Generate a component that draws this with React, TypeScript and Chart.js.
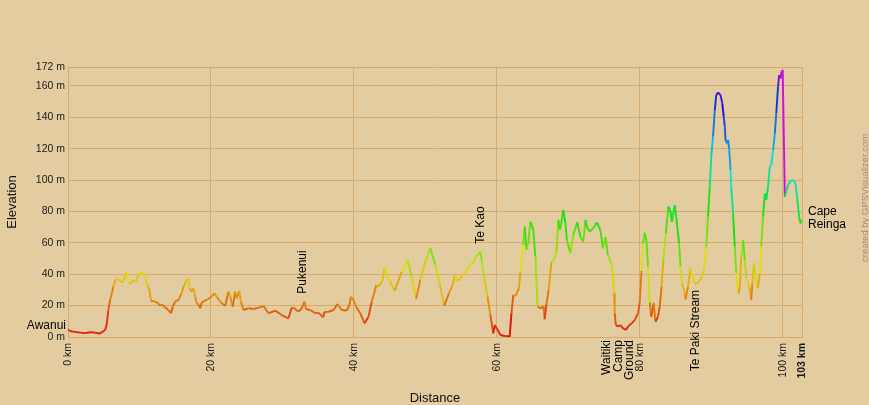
import React, { useEffect, useRef } from "react";
import { Chart, registerables } from "chart.js";

Chart.register(...registerables);

// ---- data ----
const distanceKm = [
  0.0, 0.2, 0.7, 1.7, 2.4, 3.1, 3.8, 4.4, 4.7, 5.2, 5.4, 5.65, 5.9, 6.35, 6.6, 7.05, 7.5, 7.8, 8.2, 8.55,
  8.9, 9.25, 9.6, 9.85, 10.3, 10.8, 11.1, 11.4, 11.6, 12.2, 12.65, 12.8, 13.1, 13.6, 14.05, 14.4, 14.65, 15.0, 15.45, 15.9,
  16.15, 16.4, 16.6, 16.85, 17.0, 17.3, 17.55, 17.8, 18.0, 18.25, 18.5, 18.7, 19.4, 20.1, 20.45, 20.8, 21.3, 22.0, 22.45, 22.7,
  23.05, 23.4, 23.6, 23.95, 24.2, 24.55, 25.25, 25.95, 26.8, 27.35, 28.05, 29.0, 29.9, 30.85, 31.3, 31.65, 32.25, 32.7, 33.1, 33.3,
  33.9, 34.6, 35.05, 35.7, 35.9, 36.45, 37.15, 37.7, 38.3, 39.0, 39.35, 39.6, 39.95, 40.3, 40.9, 41.5, 42.05, 42.5, 43.15, 43.4,
  43.95, 44.3, 44.6, 45.1, 45.7, 46.7, 47.5, 48.1, 48.7, 49.3, 50.0, 50.7, 51.4, 52.0, 52.65, 53.3, 53.7, 54.2, 54.45, 55.15,
  55.85, 56.3, 56.75, 57.0, 57.3, 57.7, 57.9, 58.3, 58.7, 59.1, 59.5, 59.7, 60.0, 60.5, 61.2, 61.8, 62.05, 62.3, 62.6, 63.1,
  63.3, 63.7, 63.9, 64.15, 64.4, 64.7, 65.1, 65.4, 65.7, 66.1, 66.55, 66.7, 66.95, 67.25, 67.65, 67.95, 68.35, 68.6, 68.8, 69.0,
  69.3, 69.6, 69.8, 70.3, 70.7, 71.25, 71.7, 72.1, 72.4, 72.6, 73.0, 73.6, 74.0, 74.5, 74.85, 75.2, 75.55, 76.0, 76.25, 76.4,
  76.5, 76.65, 77.0, 77.3, 77.65, 78.05, 78.35, 78.85, 79.3, 79.75, 80.0, 80.25, 80.45, 80.7, 80.95, 81.15, 81.4, 81.6, 81.95, 82.2,
  82.55, 82.8, 83.05, 83.3, 83.65, 84.0, 84.3, 84.5, 84.65, 84.9, 85.1, 85.5, 85.7, 85.9, 86.3, 86.4, 86.75, 87.1, 87.4, 87.7,
  88.15, 88.6, 89.0, 89.3, 89.55, 89.8, 90.0, 90.25, 90.5, 90.7, 90.95, 91.3, 91.55, 91.75, 91.9, 92.0, 92.2, 92.35, 92.5, 92.7,
  92.8, 93.05, 93.3, 93.5, 93.8, 94.0, 94.2, 94.45, 94.7, 94.9, 95.3, 95.5, 95.6, 95.75, 96.0, 96.2, 96.5, 96.8, 97.0, 97.25,
  97.5, 97.7, 97.95, 98.2, 98.4, 98.65, 98.9, 99.1, 99.35, 99.5, 99.7, 99.85, 100.0, 100.3, 100.5, 100.75, 101.1, 101.45, 101.8, 102.0,
  102.3, 102.5, 102.6,
];

const elevationM = [
  5, 4, 3.4, 2.8, 2.5, 3, 2.8, 2.2, 2.9, 4.5, 7.6, 17, 23.6, 32, 36.3, 37.4, 34.6, 35.9, 41, 34.2,
  35, 36, 36, 39.5, 41.6, 38.4, 33, 30, 23.1, 22.5, 21.4, 20, 20.7, 18.9, 17.2, 15.1, 19.3, 22.5, 23.6, 27.8,
  32, 34.2, 36.3, 37.4, 31, 28.9, 31, 25.7, 21.4, 20.7, 18.3, 22, 23.6, 25.7, 27.8, 25.7, 22.5, 19.7, 28.9, 25.7,
  19.3, 28.9, 24.6, 29.3, 22.5, 17.2, 18.3, 17.8, 18.9, 19.7, 15.1, 16.8, 14, 11.9, 18.7, 18.3, 16.1, 18.3, 22.5, 17.8,
  17.2, 15.1, 15.5, 12.5, 16, 16, 17.2, 21, 17.2, 16.8, 20, 25.7, 23.6, 19.3, 15.1, 8.7, 12.9, 22.5, 33.1, 32,
  35.2, 44.4, 39.5, 35.2, 29.5, 41.6, 49, 38.4, 24.2, 36.3, 48, 56.5, 45.9, 34.2, 20, 27.8, 32, 39.5, 35.2, 38.9,
  42.7, 46.5, 46.9, 51.1, 52.2, 54.3, 48, 36.3, 25.7, 14, 2.3, 7.6, 5.5, 1.3, 0.5, 0.5, 15.1, 26.8, 26, 31,
  41.6, 58.6, 70.3, 55.4, 59.7, 73.4, 68.2, 51.1, 19.3, 18.3, 19.3, 11.3, 21, 30, 48, 49, 54.3, 74.5, 68.2, 72,
  80.9, 72.4, 61.8, 53.3, 65, 73, 63.9, 60.7, 74.5, 70, 67, 70, 73, 68, 56.5, 63.5, 52, 47, 38.4, 27.8,
  15, 7.6, 6.6, 7.6, 5.5, 4.5, 6.6, 8.7, 10.8, 15, 22, 42, 59.7, 66.4, 60.7, 44.8, 22, 12.9, 21.4, 9.7,
  13, 19.3, 32, 49, 66, 83, 79.8, 73.4, 77.7, 84, 76.6, 59.7, 44.8, 34.2, 27.8, 24, 32, 43.7, 38.4, 33.8,
  34.6, 37.4, 42.7, 57.5, 76.6, 95.7, 114.8, 127.6, 144.6, 154.1, 155.8, 154.1, 148.8, 140.3, 134, 125.5, 123.4, 125.5, 120.2, 106.4,
  95.7, 78.8, 57.5, 40.6, 27.8, 32, 51.1, 61.8, 49, 38.4, 32, 27.8, 23.6, 34.2, 47, 38.4, 31, 40.6, 57.5, 76.6,
  91.5, 87.3, 95.7, 108.5, 109.5, 119, 129.7, 142.5, 159.4, 166.9, 164.8, 169, 170, 89.4, 92.6, 96.8, 99.4, 100, 97.9, 89.4,
  76.6, 72.4, 74.5,
];

const yTickValues = [0, 20, 40, 60, 80, 100, 120, 140, 160, 172];
const xTickValues = [0, 20, 40, 60, 80, 100, 102.7];

const waypointNames = ["Awanui", "Pukenui", "Te Kao", "Waitiki Camp Ground", "Te Paki Stream", "Cape Reinga"];
const waypointKm = [0, 32.9, 57.7, 76.9, 87.8, 102.7];
const waypointElev = [3, 22.5, 54.3, 7, 33.8, 73];

// colour scale stops (elevation -> hue)
const colorStopElev = [0, 20, 40, 60, 80, 100, 125, 145, 158, 172];
const colorStopHue = [0, 28, 58, 95, 120, 168, 205, 232, 262, 300];

// ---- styles ----
const BG = "#e4cca1";
const GRID = "#d9aa6a";
const FONT = '"Liberation Sans", Arial, Helvetica, sans-serif';

function elevColor(m: number): string {
  let h = colorStopHue[colorStopHue.length - 1];
  for (let i = 0; i < colorStopElev.length - 1; i++) {
    const a = colorStopElev[i];
    const b = colorStopElev[i + 1];
    if (m <= b) {
      const t = Math.max(0, (m - a) / (b - a));
      h = colorStopHue[i] + t * (colorStopHue[i + 1] - colorStopHue[i]);
      break;
    }
  }
  return `hsl(${h.toFixed(1)}, 88%, 47%)`;
}

const bgPlugin = {
  id: "bgFill",
  beforeDraw(chart: any) {
    const { ctx, width, height } = chart;
    ctx.save();
    ctx.fillStyle = BG;
    ctx.fillRect(0, 0, width, height);
    ctx.restore();
  },
};

const labelPlugin = {
  id: "waypointLabels",
  afterDatasetsDraw(chart: any) {
    const { ctx, scales } = chart;
    const xs = scales.x;
    const ys = scales.y;
    ctx.save();
    ctx.fillStyle = "#000";
    ctx.font = `12px ${FONT}`;
    waypointNames.forEach((name, i) => {
      const px = xs.getPixelForValue(waypointKm[i]);
      const py = ys.getPixelForValue(waypointElev[i]);
      const lines = name.split(" ");
      ctx.save();
      if (i === 0) {
        ctx.textAlign = "right";
        ctx.textBaseline = "alphabetic";
        ctx.fillText(name, px - 2, py - 3);
      } else if (i === 1 || i === 2) {
        ctx.translate(px, py - 8);
        ctx.rotate(-Math.PI / 2);
        ctx.textAlign = "left";
        ctx.textBaseline = "middle";
        ctx.fillText(name, 0, 0);
      } else if (i === 3) {
        ctx.translate(px + 1, ys.getPixelForValue(0) + 3);
        ctx.rotate(-Math.PI / 2);
        ctx.textAlign = "right";
        ctx.textBaseline = "middle";
        lines.forEach((ln, k) => ctx.fillText(ln, 0, (k - 1) * 11.5));
      } else if (i === 4) {
        ctx.translate(px, py + 6);
        ctx.rotate(-Math.PI / 2);
        ctx.textAlign = "right";
        ctx.textBaseline = "middle";
        ctx.fillText(name, 0, 0);
      } else {
        ctx.textAlign = "left";
        ctx.textBaseline = "alphabetic";
        ctx.fillText(lines[0], px + 6, py - 7);
        ctx.fillText(lines[1], px + 6, py + 6);
      }
      ctx.restore();
    });
    // credit
    ctx.save();
    ctx.fillStyle = "#9c9084";
    ctx.font = `9.5px ${FONT}`;
    ctx.translate(chart.width - 4, 262);
    ctx.rotate(-Math.PI / 2);
    ctx.textAlign = "left";
    ctx.textBaseline = "middle";
    ctx.fillText("created by GPSVisualizer.com", 0, 0);
    ctx.restore();
    ctx.restore();
  },
};

export default function App() {
  const ref = useRef<HTMLCanvasElement | null>(null);

  useEffect(() => {
    if (!ref.current) return;
    Chart.defaults.font.family = FONT;
    const data = distanceKm.map((d, i) => ({ x: d, y: elevationM[i] }));
    const chart = new Chart(ref.current, {
      type: "line",
      data: {
        datasets: [
          {
            data,
            borderColor: "#e02010",
            borderWidth: 1.9,
            pointRadius: 0,
            tension: 0,
            fill: false,
            segment: {
              borderColor: (c: any) => elevColor(c.p0.parsed.y),
            },
          },
        ],
      },
      options: {
        responsive: false,
        animation: false,
        devicePixelRatio: 1,
        layout: { padding: { left: 0, top: 67, right: 67, bottom: 0 } },
        plugins: { legend: { display: false }, tooltip: { enabled: false } },
        scales: {
          x: {
            type: "linear",
            min: 0,
            max: 102.7,
            afterBuildTicks: (s: any) => {
              s.ticks = xTickValues.map((v) => ({ value: v }));
            },
            afterFit: (s: any) => {
              s.height = 68;
            },
            grid: { color: GRID, lineWidth: 1, drawTicks: false },
            border: { color: GRID, width: 1 },
            ticks: {
              autoSkip: false,
              minRotation: 90,
              maxRotation: 90,
              padding: 6,
              color: "#1a1a1a",
              font: (c: any) => ({
                size: 10.5,
                family: FONT,
                weight: c.index === xTickValues.length - 1 ? "bold" : "normal",
              }),
              callback: (v: any) => Math.round(Number(v)) + " km",
            },
            title: {
              display: true,
              text: "Distance",
              color: "#111",
              font: { size: 13, lineHeight: 1, family: FONT },
              padding: 0,
            },
          },
          y: {
            min: 0,
            max: 172,
            afterBuildTicks: (s: any) => {
              s.ticks = yTickValues.map((v) => ({ value: v }));
            },
            afterFit: (s: any) => {
              s.width = 68;
            },
            grid: { color: GRID, lineWidth: 1, drawTicks: false },
            border: { color: GRID, width: 1 },
            ticks: {
              padding: 3,
              color: "#1a1a1a",
              font: { size: 10.5, family: FONT },
              callback: (v: any) => v + " m",
            },
            title: {
              display: true,
              text: "Elevation",
              color: "#111",
              font: { size: 13, family: FONT },
              padding: { top: 5, bottom: 0 },
            },
          },
        },
      },
      plugins: [bgPlugin, labelPlugin],
    });
    return () => chart.destroy();
  }, []);

  return (
    <div style={{ position: "absolute", left: 0, top: 0, width: 869, height: 405, background: BG }}>
      <canvas ref={ref} width={869} height={405} style={{ display: "block" }} />
    </div>
  );
}
